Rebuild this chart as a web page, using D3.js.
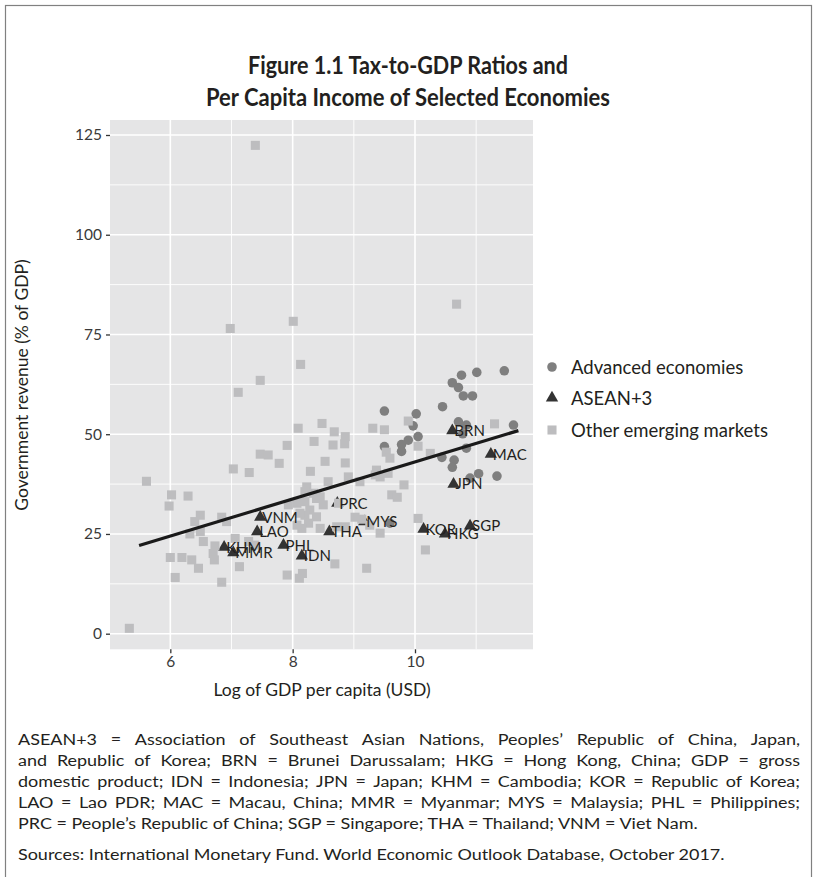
<!DOCTYPE html>
<html><head><meta charset="utf-8">
<script src="https://cdn.jsdelivr.net/npm/d3@7"></script>
<style>
body{margin:0;background:#fff;}
svg{display:block;}
text{font-family:Lato,"Open Sans",sans-serif;}
</style></head><body>
<svg id="c" width="813" height="877"></svg>
<script>
// ---------- data ----------
const advancedX=[11.46,11.01,10.76,10.61,10.71,10.79,10.94,10.45,9.50,10.02,9.97,10.71,10.84,11.61,10.05,9.89,9.78,9.50,9.78,10.78,10.84,10.44,10.64,10.61,10.90,11.04,11.34,9.59];
const advancedY=[65.9,65.5,64.8,62.9,61.7,59.6,59.6,56.9,55.8,55.1,52.1,53.1,52.3,52.3,49.4,48.5,47.4,46.9,45.7,50.1,46.5,44.2,43.5,41.7,39.0,40.1,39.5,27.7];

const aseanLabels=["VNM","LAO","KHM","MMR","PHL","IDN","THA","PRC","MYS","KOR","HKG","SGP","JPN","MAC","BRN"];
const aseanX=[7.47,7.42,6.88,7.03,7.85,8.15,8.60,8.73,9.17,10.14,10.49,10.90,10.63,11.24,10.61];
const aseanY=[29.2,25.6,21.7,20.3,22.2,19.5,25.6,32.7,28.1,26.2,25.0,27.0,37.5,45.0,50.9];

const otherX=[7.39,6.98,8.01,8.13,7.47,7.11,8.09,8.48,7.91,8.35,7.47,7.60,7.78,7.03,7.29,8.29,5.61,6.02,6.29,5.98,6.49,6.40,6.84,6.92,6.32,6.49,6.54,6.73,6.70,6.72,6.00,6.19,6.35,6.46,6.08,6.84,7.13,7.06,7.28,7.38,5.33,7.91,8.11,8.16,10.68,11.30,9.89,9.31,9.50,8.68,8.86,8.85,8.66,10.05,9.53,9.59,10.25,8.53,8.86,9.37,8.58,8.91,9.10,9.35,9.43,9.56,9.82,9.62,9.71,8.34,8.45,8.23,8.75,8.28,8.20,9.02,9.13,9.43,10.05,10.17,8.69,9.21,8.72,8.86,9.26,8.50,7.93,8.39,8.26,8.15,8.07,8.20,8.39,8.12,8.07,8.45,8.20];
const otherY=[122.4,76.5,78.3,67.5,63.5,60.5,51.5,52.7,47.2,48.2,45.0,44.8,42.7,41.3,40.4,40.7,38.2,34.8,34.5,32.0,29.7,28.1,29.2,28.1,25.0,25.6,23.1,22.0,20.1,18.5,19.1,19.1,18.5,16.4,14.1,12.9,16.8,23.9,23.1,22.2,1.35,14.7,13.9,15.1,82.6,52.6,53.3,51.5,51.1,50.6,49.4,47.6,47.3,47.0,45.5,44.0,45.2,43.2,42.8,41.0,38.1,39.3,38.1,39.8,39.3,40.2,37.3,34.8,34.2,35.2,34.3,36.8,32.7,31.0,29.7,29.2,28.7,25.2,28.9,21.0,17.5,16.4,26.8,26.8,27.2,32.3,32.3,29.3,27.7,26.4,32.7,33.1,33.9,30.2,27.2,26.4,35.6];

// fitted line end points
const fitX=[5.49,11.69];
const fitY=[22.1,50.9];

const xTicks=[6,8,10];
const yTicks=[0,25,50,75,100,125];
const xMinor=[5,7,9,11];
const yMinor=[12.5,37.5,62.5,87.5,112.5];

const titleLines=["Figure 1.1  Tax-to-GDP Ratios and","Per Capita Income of Selected Economies"];
const legendLabels=["Advanced economies","ASEAN+3","Other emerging markets"];
const xTitle="Log of GDP per capita (USD)";
const yTitle="Government revenue (% of GDP)";
const noteLines=[
"ASEAN+3 = Association of Southeast Asian Nations, Peoples’ Republic of China, Japan,",
"and Republic of Korea; BRN = Brunei Darussalam; HKG = Hong Kong, China; GDP = gross",
"domestic product; IDN = Indonesia; JPN = Japan; KHM = Cambodia; KOR = Republic of Korea;",
"LAO = Lao PDR; MAC = Macau, China; MMR = Myanmar; MYS = Malaysia; PHL = Philippines;",
"PRC = People’s Republic of China; SGP = Singapore; THA = Thailand; VNM = Viet Nam."];
const sourceLine="Sources: International Monetary Fund. World Economic Outlook Database, October 2017.";

// ---------- drawing ----------
const svg=d3.select('#c');
svg.append('rect').attr('x',5.5).attr('y',5.5).attr('width',806).attr('height',900)
  .attr('fill','none').attr('stroke','#808080').attr('stroke-width',1.2);

const P={l:110,r:533,t:120,b:649.3};
const x=d3.scaleLinear().domain([5.014,11.929]).range([P.l,P.r]);
const y=d3.scaleLinear().domain([-3.91,128.76]).range([P.b,P.t]);

// title
svg.append('g').selectAll('text').data(titleLines).join('text')
  .attr('x',408).attr('y',(d,i)=>74+i*32)
  .attr('text-anchor','middle').attr('font-weight',700).attr('font-size',25).attr('fill','#231f20')
  .attr('textLength',(d,i)=>i===0?320:404).attr('lengthAdjust','spacingAndGlyphs')
  .text(d=>d);

// panel
svg.append('rect').attr('x',P.l).attr('y',P.t).attr('width',P.r-P.l).attr('height',P.b-P.t).attr('fill','#e5e5e6');
const grid=svg.append('g');
grid.selectAll('.vmi').data(xMinor.filter(v=>x(v)>P.l)).join('line')
  .attr('x1',d=>x(d)).attr('x2',d=>x(d)).attr('y1',P.t).attr('y2',P.b).attr('stroke','#fff').attr('stroke-width',0.9);
grid.selectAll('.hmi').data(yMinor).join('line')
  .attr('x1',P.l).attr('x2',P.r).attr('y1',d=>y(d)).attr('y2',d=>y(d)).attr('stroke','#fff').attr('stroke-width',0.9);
grid.selectAll('.vma').data(xTicks).join('line')
  .attr('x1',d=>x(d)).attr('x2',d=>x(d)).attr('y1',P.t).attr('y2',P.b).attr('stroke','#fff').attr('stroke-width',1.6);
grid.selectAll('.hma').data(yTicks).join('line')
  .attr('x1',P.l).attr('x2',P.r).attr('y1',d=>y(d)).attr('y2',d=>y(d)).attr('stroke','#fff').attr('stroke-width',1.6);

// axes
const ax=svg.append('g').attr('transform',`translate(0,${P.b})`)
  .call(d3.axisBottom(x).tickValues(xTicks).tickSize(4).tickPadding(3).tickFormat(d3.format('d')));
const ay=svg.append('g').attr('transform',`translate(${P.l},0)`)
  .call(d3.axisLeft(y).tickValues(yTicks).tickSize(4).tickPadding(4).tickFormat(d3.format('d')));
[ax,ay].forEach(g=>{
  g.select('.domain').remove();
  g.selectAll('.tick line').attr('stroke','#333').attr('stroke-width',1.3);
  g.selectAll('.tick text').attr('font-size',15.5).attr('fill','#3a3a3a').attr('font-family','Lato,sans-serif');
});

svg.append('text').attr('x',322).attr('y',696).attr('text-anchor','middle')
  .attr('font-size',17.5).attr('fill','#231f20').text(xTitle);
svg.append('text').attr('transform','translate(28,385) rotate(-90)').attr('text-anchor','middle')
  .attr('font-size',17.5).attr('fill','#231f20').text(yTitle);

// points
const circ=d3.symbol().type(d3.symbolCircle).size(72);
const tri=d3.symbol().type(d3.symbolTriangle).size(66);
const sq=d3.symbol().type(d3.symbolSquare).size(82);

const adv=advancedX.map((v,i)=>({x:v,y:advancedY[i]}));
const ase=aseanX.map((v,i)=>({x:v,y:aseanY[i],l:aseanLabels[i]}));
const oth=otherX.map((v,i)=>({x:v,y:otherY[i]}));

svg.append('g').selectAll('path').data(adv).join('path')
  .attr('d',circ).attr('transform',d=>`translate(${x(d.x)},${y(d.y)})`).attr('fill','#7f7f7f');
svg.append('g').selectAll('path').data(ase).join('path')
  .attr('d',tri).attr('transform',d=>`translate(${x(d.x)},${y(d.y)})`).attr('fill','#333333');
svg.append('g').selectAll('path').data(oth).join('path')
  .attr('d',sq).attr('transform',d=>`translate(${x(d.x)},${y(d.y)})`).attr('fill','#bdbdbf');

// fitted line
svg.append('path').datum(fitX.map((v,i)=>[v,fitY[i]]))
  .attr('d',d3.line().x(d=>x(d[0])).y(d=>y(d[1])))
  .attr('stroke','#1a1a1a').attr('stroke-width',3.2).attr('fill','none');

// labels
svg.append('g').selectAll('text').data(ase).join('text')
  .attr('x',d=>x(d.x)+2).attr('y',d=>y(d.y)).attr('dy','0.36em')
  .attr('font-size',15).attr('fill','#231f20').text(d=>d.l);

// legend
const lg=svg.append('g');
const ly=[367,398,430];
const lsym=[circ,tri,sq];
const lcol=['#7f7f7f','#333333','#bdbdbf'];
legendLabels.forEach((t,i)=>{
  lg.append('path').attr('d',lsym[i]).attr('transform',`translate(552,${ly[i]})`).attr('fill',lcol[i]);
  lg.append('text').attr('x',571).attr('y',ly[i]).attr('dy','0.36em').attr('font-size',18.5).attr('fill','#231f20').text(t);
});

// notes
const nfs=15.5;
const NL=18, NR=800;
const ng=svg.append('g').attr('transform',`translate(${NL},0)`);
const inner=ng.append('g');
const lineYs=[745,766,787,808,829];
const tmp=inner.append('text').attr('font-size',nfs).text(noteLines[4]);
const w5=tmp.node().getComputedTextLength();
tmp.remove();
const k=(0.87*(NR-NL))/w5;
inner.attr('transform',`scale(${k},1)`);
const target=(NR-NL)/k;
noteLines.forEach((ln,i)=>{
  const t=inner.append('text').attr('x',0).attr('y',lineYs[i]).attr('font-size',nfs).attr('fill','#231f20');
  if(i===4){t.text(ln);return;}
  const words=ln.split(' ');
  const ws=words.map(w=>{const m=inner.append('text').attr('font-size',nfs).text(w);const v=m.node().getComputedTextLength();m.remove();return v;});
  const tot=d3.sum(ws);
  const gap=(target-tot)/(words.length-1);
  let cx=0;
  words.forEach((w,j)=>{t.append('tspan').attr('x',cx).text(w);cx+=ws[j]+gap;});
});
inner.append('text').attr('x',0).attr('y',860).attr('font-size',nfs).attr('fill','#231f20').text(sourceLine);
</script>
</body></html>
